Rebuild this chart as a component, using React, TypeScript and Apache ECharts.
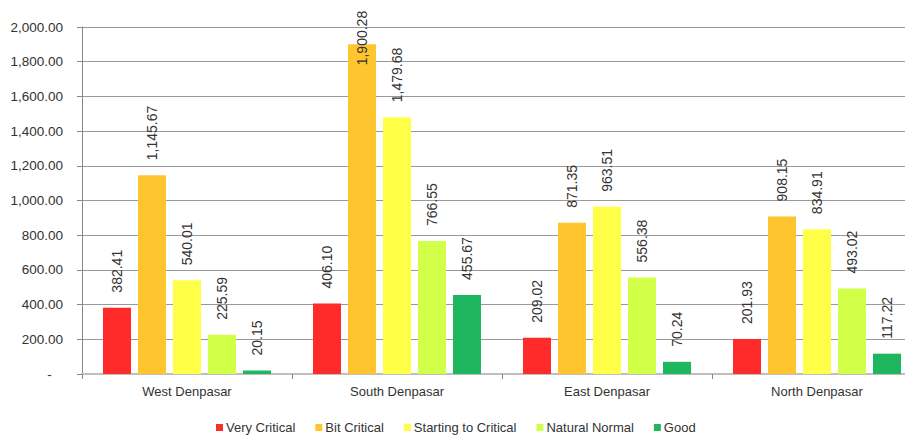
import React, { useEffect, useRef } from "react";
import * as echarts from "echarts";

const categories = ["West Denpasar", "South Denpasar", "East Denpasar", "North Denpasar"];
const veryCritical = [382.41, 406.1, 209.02, 201.93];
const bitCritical = [1145.67, 1900.28, 871.35, 908.15];
const startingToCritical = [540.01, 1479.68, 963.51, 834.91];
const naturalNormal = [225.59, 766.55, 556.38, 493.02];
const good = [20.15, 455.67, 70.24, 117.22];

const seriesDefs = [
  { name: "Very Critical", data: veryCritical, color: "#ff2a2a" },
  { name: "Bit Critical", data: bitCritical, color: "#ffc52e" },
  { name: "Starting to Critical", data: startingToCritical, color: "#ffff48" },
  { name: "Natural Normal", data: naturalNormal, color: "#d2ff48" },
  { name: "Good", data: good, color: "#1eb65e" },
];

const fmt = (v: number) =>
  v.toLocaleString("en-US", { minimumFractionDigits: 2, maximumFractionDigits: 2 });

const FONT = "Liberation Sans, Arial, sans-serif";

// the plot area runs a little past the visible right edge
const VIEW_W = 913;
const CHART_W = 922;
const H = 443;

export default function App() {
  const ref = useRef<HTMLDivElement>(null);

  useEffect(() => {
    if (!ref.current) return;
    const chart = echarts.init(ref.current, null, { renderer: "svg" });

    const series = seriesDefs.map((s) => ({
      name: s.name,
      type: "bar",
      barWidth: 28,
      barGap: "25%",
      data: s.data.map((v) =>
        // a label that would run past the top of the plot sits partly inside the bar
        v > 1800
          ? {
              value: v,
              label: { position: ["50%", 21], align: "left", verticalAlign: "middle" },
            }
          : v
      ),
      itemStyle: { color: s.color },
      label: {
        show: true,
        position: "top",
        distance: 15,
        rotate: 90,
        align: "left",
        verticalAlign: "middle",
        fontFamily: FONT,
        fontSize: 14,
        color: "#333",
        formatter: (p: any) => fmt(p.value),
      },
    }));

    chart.setOption({
      animation: false,
      textStyle: { fontFamily: FONT },
      grid: { left: 82, top: 27, right: 0, bottom: 69, containLabel: false },
      legend: {
        bottom: 4,
        left: 211,
        icon: "rect",
        itemWidth: 7,
        itemHeight: 7,
        itemGap: 20,
        textStyle: { fontFamily: FONT, fontSize: 13, color: "#333", padding: [0, 0, 0, -2] },
        data: seriesDefs.map((s) => s.name),
      },
      xAxis: {
        type: "category",
        data: categories,
        axisLine: { lineStyle: { color: "#bfbfbf", width: 2 } },
        axisTick: { show: true, length: 5, lineStyle: { color: "#888" } },
        axisLabel: { fontFamily: FONT, fontSize: 13, color: "#333", margin: 11 },
      },
      yAxis: {
        type: "value",
        min: 0,
        max: 2000,
        interval: 200,
        axisLine: { show: true, lineStyle: { color: "#888" } },
        axisTick: { show: true, length: 5, lineStyle: { color: "#888" } },
        splitLine: { lineStyle: { color: "#999" } },
        axisLabel: {
          fontFamily: FONT,
          fontSize: 13.5,
          color: "#333",
          margin: 19,
          formatter: (v: number) => (v === 0 ? "-   " : fmt(v)),
        },
      },
      series,
    });

    return () => chart.dispose();
  }, []);

  return (
    <div style={{ width: VIEW_W, height: H, overflow: "hidden", marginLeft: -8, marginTop: -8 }}>
      <div ref={ref} style={{ width: CHART_W, height: H }} />
    </div>
  );
}
